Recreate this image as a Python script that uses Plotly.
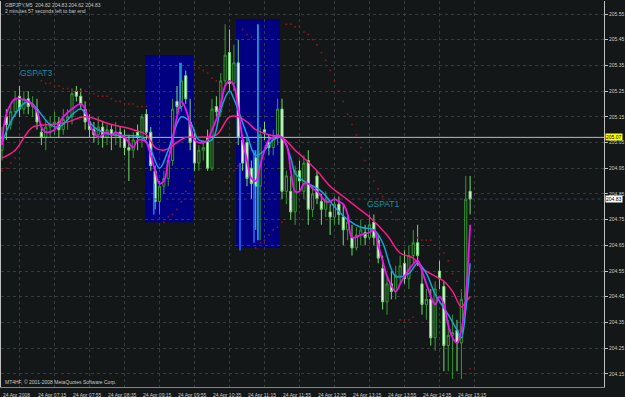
import plotly.graph_objects as go

# ---------------- data ----------------
bars = list(range(108))

opens = [205.02,205.15,205.12,205.17,205.23,205.18,205.22,205.19,205.18,205.09,
         205.07,205.11,205.12,205.13,205.10,205.14,205.15,205.25,205.23,205.18,
         205.13,205.10,205.08,205.11,205.07,205.10,205.08,205.09,205.07,205.03,
         205.02,205.09,205.07,205.16,205.09,204.94,204.82,204.88,204.91,204.98,
         205.21,205.19,205.31,205.13,205.07,204.97,205.02,205.07,204.95,205.19,
         205.17,205.29,205.40,205.28,205.36,205.06,205.05,204.95,204.99,204.88,
         205.10,205.05,205.03,205.07,205.18,204.86,204.86,204.78,204.94,204.86,
         204.98,204.79,204.92,204.82,204.79,204.78,204.76,204.81,204.76,204.71,
         204.68,204.64,204.69,204.70,204.68,204.74,204.67,204.56,204.43,204.50,
         204.47,204.53,204.58,204.52,204.61,204.66,204.50,204.42,204.44,204.29,
         204.55,204.49,204.26,204.30,204.32,204.27,204.44,204.86]
closes = [205.07,205.12,205.17,205.22,205.18,205.22,205.19,205.20,205.13,205.07,
          205.11,205.12,205.13,205.10,205.14,205.15,205.24,205.23,205.20,205.13,
          205.10,205.08,205.11,205.07,205.10,205.08,205.09,205.07,205.03,205.02,
          205.06,205.07,205.15,205.09,204.96,204.82,204.88,204.91,204.98,205.18,
          205.19,205.29,205.22,205.05,204.97,205.02,205.03,204.95,205.18,205.17,
          205.29,205.39,205.28,205.36,205.07,204.97,204.91,204.89,204.88,205.08,
          205.09,205.03,205.07,205.18,204.86,204.92,204.78,204.94,204.90,204.97,
          204.79,204.85,204.83,204.79,204.83,204.76,204.81,204.77,204.71,204.74,
          204.64,204.69,204.71,204.68,204.73,204.68,204.60,204.43,204.50,204.47,
          204.53,204.57,204.52,204.61,204.66,204.61,204.42,204.44,204.29,204.48,
          204.52,204.26,204.30,204.31,204.27,204.44,204.83,204.83]
highs = [205.11,205.18,205.20,205.25,205.27,205.25,205.25,205.23,205.22,205.12,
         205.14,205.15,205.17,205.15,205.18,205.18,205.26,205.27,205.26,205.21,
         205.16,205.13,205.15,205.13,205.12,205.12,205.13,205.11,205.10,205.08,
         205.09,205.12,205.16,205.18,205.11,204.96,204.90,204.94,205.00,205.22,
         205.27,205.36,205.33,205.22,205.10,205.04,205.06,205.10,205.22,205.23,
         205.32,205.51,205.49,205.43,205.45,205.08,205.07,204.98,205.02,205.11,
         205.13,205.08,205.10,205.22,205.22,204.94,204.92,204.96,204.98,205.00,
         205.02,204.88,204.94,204.85,204.86,204.81,204.84,204.84,204.81,204.77,
         204.73,204.72,204.75,204.73,204.77,204.77,204.69,204.61,204.53,204.55,
         204.57,204.61,204.63,204.65,204.71,204.73,204.55,204.48,204.48,204.51,
         204.59,204.51,204.36,204.38,204.36,204.48,204.92,204.92]
lows = [204.98,205.06,205.10,205.15,205.15,205.16,205.16,205.15,205.10,205.04,
        205.02,205.07,205.08,205.07,205.08,205.10,205.12,205.21,205.18,205.10,
        205.07,205.05,205.04,205.03,205.04,205.02,205.04,205.03,205.00,204.90,
        204.99,205.02,205.03,205.06,204.94,204.79,204.77,204.85,204.88,204.96,
        205.16,205.17,205.20,205.02,204.94,204.94,204.98,204.94,204.94,205.15,
        205.15,205.27,205.25,205.25,205.04,204.94,204.88,204.83,204.71,204.67,
        205.06,205.00,205.00,205.04,204.83,204.81,204.75,204.73,204.86,204.83,
        204.73,204.76,204.81,204.73,204.76,204.69,204.73,204.73,204.65,204.67,
        204.61,204.63,204.65,204.65,204.67,204.65,204.58,204.40,204.38,204.44,
        204.44,204.50,204.50,204.48,204.58,204.57,204.38,204.36,204.26,204.24,
        204.48,204.16,204.16,204.13,204.16,204.13,204.40,204.77]

# moving averages (read at selected bars)
fast_idx = [0,1,3,4,6,8,9,10,12,14,16,18,19,20,21,22,24,25,26,27,28,29,30,31,32,33,34,35,36,37,38,39,
            40,41,42,43,44,45,46,47,48,49,50,51,52,53,54,55,56,57,58,59,60,61,62,63,65,66,67,68,69,70,
            71,72,73,74,75,76,77,78,79,80,82,84,85,86,87,88,90,91,92,95,96,97,99,100,101,102,103,104,
            105,106,107]
fast_val = [205.04,205.16,205.22,205.22,205.21,205.17,205.11,205.09,205.10,205.15,205.18,205.20,205.18,
            205.12,205.09,205.07,205.09,205.08,205.09,205.08,205.07,205.05,205.03,205.06,205.06,205.05,
            205.00,204.94,204.89,204.90,204.98,205.06,205.15,205.21,205.18,205.12,205.06,205.05,205.05,
            205.06,205.10,205.14,205.20,205.27,205.29,205.27,205.18,205.06,204.98,204.91,204.90,204.96,
            205.02,205.06,205.07,205.08,205.04,204.94,204.86,204.86,204.89,204.89,204.87,204.86,204.84,
            204.82,204.82,204.83,204.82,204.81,204.77,204.68,204.69,204.70,204.71,204.65,204.59,204.53,
            204.47,204.50,204.53,204.59,204.55,204.50,204.42,204.45,204.42,204.34,204.29,204.27,204.32,
            204.45,204.73]
mid_idx = [0,3,6,11,13,18,21,25,32,34,36,38,41,43,45,48,50,52,53,56,58,60,62,64,66,67,69,73,76,79,82,
           85,87,90,93,95,97,99,102,104,105,106,107]
mid_val = [205.05,205.16,205.21,205.12,205.11,205.18,205.11,205.08,205.07,205.02,204.95,205.02,205.15,
           205.13,205.06,205.06,205.18,205.25,205.22,205.08,205.00,205.02,205.06,205.07,204.99,204.93,
           204.90,204.86,204.80,204.75,204.72,204.71,204.66,204.53,204.54,204.58,204.54,204.46,204.38,
           204.32,204.29,204.40,204.58]
slow_idx = [0,3,7,11,15,19,25,30,33,35,37,40,42,45,49,52,54,56,58,61,64,67,69,72,75,78,81,84,88,91,94,
            96,99,101,103,105,106,107]
slow_val = [204.99,205.02,205.11,205.12,205.13,205.15,205.12,205.10,205.08,205.03,205.02,205.05,205.07,
            205.07,205.08,205.15,205.15,205.13,205.10,205.08,205.07,205.02,204.99,204.94,204.88,204.84,
            204.80,204.76,204.69,204.62,204.60,204.56,204.53,204.51,204.47,204.41,204.43,204.45]

# parabolic SAR (None = no dot seen)
sar = [204.94,204.95,204.97,204.99,None,None,None,None,None,205.29,
       205.28,205.28,205.27,205.27,205.26,205.26,205.25,205.25,205.25,205.25,
       205.24,205.24,205.23,205.23,205.23,205.22,205.21,205.21,205.20,205.20,
       205.20,205.19,205.19,205.19,None,None,None,204.74,204.76,204.77,
       204.79,204.82,204.86,204.90,205.35,205.34,205.33,205.32,205.30,205.29,
       205.27,204.90,204.92,204.94,204.96,205.49,205.47,205.46,204.64,204.66,
       204.67,204.69,204.71,204.72,204.74,205.51,205.51,205.50,205.50,205.48,
       205.47,205.45,205.43,205.40,205.37,205.33,205.29,205.25,205.21,205.16,
       205.12,205.08,205.03,204.98,204.94,204.90,204.87,204.84,204.81,204.78,
       204.75,204.36,204.36,204.36,204.37,204.68,204.67,204.67,204.67,204.65,
       204.64,204.62,204.59,204.54,204.51,204.47,204.15,204.17]

# highlighted zones: (bar from, bar to, price low, price high)
zones = [(32.7, 43.7, 204.74, 205.39), (53.5, 63.5, 204.64, 205.53)]
# vertical spike lines inside zones: (bar, price low, price high, colour)
spikes = [(34.7, 204.77, 204.89, "#1f6fff"), (40.7, 205.18, 205.36, "#18a8d8"),
          (54.4, 204.63, 204.97, "#1f6fff"), (57.6, 204.66, 205.02, "#1f6fff"),
          (58.5, 204.67, 205.51, "#18b0e0")]

level_line = 205.07
bid = 204.83
y_ticks = [205.55,205.45,205.35,205.25,205.15,205.05,204.95,204.85,204.75,204.65,204.55,204.45,204.35,204.25,204.15]
time_labels = ["24 Apr 2008","24 Apr 07:15","24 Apr 07:55","24 Apr 08:35","24 Apr 09:15","24 Apr 09:55",
               "24 Apr 10:35","24 Apr 11:15","24 Apr 11:55","24 Apr 12:35","24 Apr 13:15","24 Apr 13:55",
               "24 Apr 14:35","24 Apr 15:15"]
label_bars = [8 * k for k in range(len(time_labels))]

BG = "#131717"
FONT = "Liberation Sans"
GRID = "#363b3b"

fig = go.Figure()

for (a, b, lo, hi) in zones:
    fig.add_shape(type="rect", x0=a, x1=b, y0=lo, y1=hi, fillcolor="#000080",
                  line=dict(width=0), layer="below")

# horizontal level lines
fig.add_trace(go.Scatter(x=[-1, 140], y=[bid, bid], mode="lines",
                         line=dict(color="#3c3c66", width=1, dash="dot"), hoverinfo="skip", showlegend=False))
fig.add_trace(go.Scatter(x=[-1, 140], y=[level_line, level_line], mode="lines",
                         line=dict(color="#bcbcbc", width=1), hoverinfo="skip", showlegend=False))

for (b, lo, hi, col) in spikes:
    fig.add_trace(go.Scatter(x=[b, b], y=[lo, hi], mode="lines", line=dict(color=col, width=1.6),
                             hoverinfo="skip", showlegend=False))

fig.add_trace(go.Candlestick(
    x=bars, open=opens, high=highs, low=lows, close=closes,
    increasing=dict(line=dict(color="#379a37", width=1), fillcolor=BG),
    decreasing=dict(line=dict(color="#74d874", width=1), fillcolor="#f0ffee"),
    whiskerwidth=0, showlegend=False, hoverinfo="skip"))

fig.add_trace(go.Scatter(x=slow_idx, y=slow_val, mode="lines",
                         line=dict(color="#ff1a8c", width=1.5, shape="spline"), hoverinfo="skip", showlegend=False))
fig.add_trace(go.Scatter(x=mid_idx, y=mid_val, mode="lines",
                         line=dict(color="#12a6e0", width=1.5, shape="spline"), hoverinfo="skip", showlegend=False))
fig.add_trace(go.Scatter(x=fast_idx, y=fast_val, mode="lines",
                         line=dict(color="#f010f0", width=1.8, shape="spline"), hoverinfo="skip", showlegend=False))
fig.add_trace(go.Scatter(x=bars, y=sar, mode="markers",
                         marker=dict(color="#8c1818", size=1.6, symbol="square", line=dict(width=0)),
                         hoverinfo="skip", showlegend=False))

ann = []
for lab, b in zip(time_labels, label_bars):
    ann.append(dict(x=b - 0.2, y=0, xref="x", yref="paper", text=lab, showarrow=False,
                    xanchor="left", yanchor="top", yshift=-3,
                    font=dict(size=5, color="#c8c8c8", family=FONT)))
ann.append(dict(x=0, y=1, xref="paper", yref="paper", xanchor="left", yanchor="middle", xshift=2, yshift=-4,
                text="GBPJPY,M5  204.82 204.83 204.62 204.83", showarrow=False,
                font=dict(size=5, color="#c8c8c8", family=FONT)))
ann.append(dict(x=0, y=1, xref="paper", yref="paper", xanchor="left", yanchor="middle", xshift=2, yshift=-10,
                text="2 minutes 57 seconds left to bar end", showarrow=False,
                font=dict(size=5, color="#c8c8c8", family=FONT)))
ann.append(dict(x=0, y=0, xref="paper", yref="paper", xanchor="left", yanchor="middle", xshift=2, yshift=5,
                text="MT4HF, © 2001-2008 MetaQuotes Software Corp.", showarrow=False,
                font=dict(size=5, color="#c8c8c8", family=FONT)))
ann.append(dict(x=7.8, y=205.32, xref="x", yref="y", text="GSPAT3", showarrow=False,
                font=dict(size=8.5, color="#1c8ea4", family=FONT)))
ann.append(dict(x=87.1, y=204.81, xref="x", yref="y", text="GSPAT1", showarrow=False,
                font=dict(size=8.5, color="#1c8ea4", family=FONT)))
ann.append(dict(x=1, y=level_line, xref="paper", yref="y", xanchor="left", yanchor="middle", xshift=1,
                text="205.07", showarrow=False, bgcolor="#ffff00", borderpad=0,
                font=dict(size=5, color="#000000", family=FONT)))
ann.append(dict(x=1, y=bid, xref="paper", yref="y", xanchor="left", yanchor="middle", xshift=1,
                text="204.83", showarrow=False, bgcolor="#ffffff", borderpad=0,
                font=dict(size=5, color="#000000", family=FONT)))

fig.update_layout(
    width=625, height=397, margin=dict(l=1, r=21, t=1, b=10, pad=0),
    paper_bgcolor=BG, plot_bgcolor=BG, showlegend=False, annotations=ann,
    xaxis=dict(range=[-0.229, 137.6], rangeslider=dict(visible=False), tickvals=[b + 4 for b in label_bars],
               showticklabels=False, showgrid=True, gridcolor=GRID, griddash="dot", gridwidth=1,
               zeroline=False, showline=True, linecolor="#8a8a40", mirror=False, automargin=False),
    yaxis=dict(range=[204.0987, 205.6006], side="right", tickvals=y_ticks,
               ticktext=[f"{v:.2f}" for v in y_ticks], ticks="outside", ticklen=3, tickcolor="#c0c0c0",
               tickfont=dict(size=5, color="#c8c8c8", family=FONT),
               showgrid=True, gridcolor=GRID, griddash="dot", gridwidth=1, zeroline=False,
               showline=True, linecolor="#c0c0c0", mirror=True, automargin=False),
)

fig.write_html("out.html")
